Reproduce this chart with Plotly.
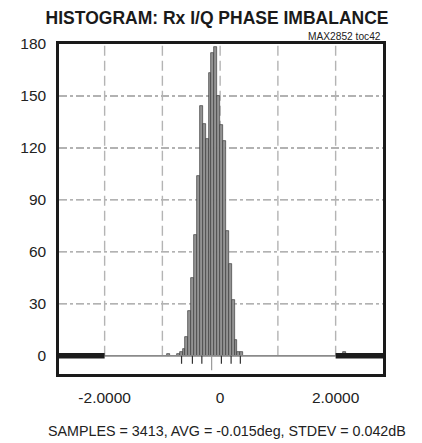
import plotly.graph_objects as go

# ---- data ----
bin_centers = [-0.900, -0.725, -0.675, -0.625, -0.575, -0.525, -0.475, -0.425,
               -0.375, -0.325, -0.275, -0.225, -0.175, -0.125, -0.075, -0.025,
               0.025, 0.075, 0.125, 0.175, 0.225, 0.275, 0.325, 0.375, 2.150]
bin_counts = [1, 1, 2, 4, 11, 26, 45, 70,
              104, 144, 134, 125, 163, 175, 178, 150,
              133, 124, 72, 53, 32, 9, 2, 2, 2]
bin_width = 0.05

left_tail_x = [-2.9, -2.0]
right_tail_x = [2.0, 2.9]
tail_y = [0, 0]
baseline_x = [-2.0, 2.0]

sigma_marks = [-0.668, -0.48, -0.317, -0.147, 0.022, 0.19, 0.35]
mean_index = 3

x_grid = [-2, -1, 0, 1, 2]
y_grid = [30, 60, 90, 120, 150]
x_tickvals = [-2, 0, 2]
x_ticktext = ["-2.0000", "0", "2.0000"]
y_tickvals = [0, 30, 60, 90, 120, 150, 180]

title_text = "HISTOGRAM: Rx I/Q PHASE IMBALANCE"
tag_text = "MAX2852 toc42"
footer_text = "SAMPLES = 3413, AVG = -0.015deg, STDEV = 0.042dB"

FONT = "Liberation Sans, Arial, Helvetica, sans-serif"

fig = go.Figure()

fig.add_trace(go.Bar(
    x=bin_centers, y=bin_counts, width=bin_width,
    marker=dict(color="#939393", line=dict(color="#3c3c3c", width=0.7)),
    showlegend=False, hoverinfo="x+y",
))

fig.add_trace(go.Scatter(x=baseline_x, y=tail_y, mode="lines",
                         line=dict(color="#8a8a8a", width=1.8), showlegend=False))
for tx in (left_tail_x, right_tail_x):
    fig.add_trace(go.Scatter(x=tx, y=tail_y, mode="lines",
                             line=dict(color="#1c1c1c", width=5.5), showlegend=False))

# sigma tick marks below the baseline
sx, sy = [], []
for i, m in enumerate(sigma_marks):
    if i == mean_index:
        continue
    sx += [m, m, None]
    sy += [0, -4.6, None]
fig.add_trace(go.Scatter(x=sx, y=sy, mode="lines",
                         line=dict(color="#333333", width=1.2), showlegend=False))
fig.add_trace(go.Scatter(x=[sigma_marks[mean_index]] * 2, y=[0, -8.4], mode="lines",
                         line=dict(color="#999999", width=1.2), showlegend=False))

shapes = []
for gx in x_grid:
    shapes.append(dict(type="line", xref="x", yref="y", x0=gx, x1=gx, y0=0, y1=180,
                       layer="below", line=dict(color="#b4b4b4", width=1.4, dash="10px,5px")))
for gy in y_grid:
    shapes.append(dict(type="line", xref="paper", yref="y", x0=0, x1=1, y0=gy, y1=gy,
                       layer="below", line=dict(color="#999999", width=1.4, dash="8px,3px,3px,3px")))

# the page body adds an 8px offset, so the figure is 8px smaller than the window
fig.update_layout(
    width=414, height=435,
    margin=dict(l=44, r=39, t=36, b=69),
    paper_bgcolor="white", plot_bgcolor="white",
    bargap=0,
    shapes=shapes,
    title=dict(text="<b>" + title_text + "</b>", x=0.505, xanchor="center",
               y=1 - 9.5 / 435, yref="container", yanchor="middle",
               font=dict(family=FONT, size=17.5, color="#1a1a1a")),
    xaxis=dict(range=[-2.79, 2.82], tickvals=x_tickvals, ticktext=x_ticktext,
               showgrid=False, zeroline=False, showline=True, mirror=True,
               linecolor="#1a1a1a", linewidth=2.5, ticks="outside", ticklen=0,
               ticklabelstandoff=8,
               tickfont=dict(family=FONT, size=15.5, color="#222222")),
    yaxis=dict(range=[-10.5, 180], tickvals=y_tickvals,
               showgrid=False, zeroline=False, showline=True, mirror=True,
               linecolor="#1a1a1a", linewidth=2.5, ticks="outside", ticklen=0,
               ticklabelstandoff=7,
               tickfont=dict(family=FONT, size=15.5, color="#222222")),
    annotations=[
        dict(text=tag_text, xref="paper", yref="paper", x=1, y=1,
             xanchor="right", yanchor="bottom", showarrow=False, yshift=0,
             font=dict(family=FONT, size=10.2, color="#222222")),
        dict(text=footer_text, xref="paper", yref="paper", x=0.5, y=0,
             xanchor="center", yanchor="middle", showarrow=False,
             xshift=6, yshift=-57,
             font=dict(family=FONT, size=14.3, color="#222222")),
    ],
)

fig.write_html("out.html")
